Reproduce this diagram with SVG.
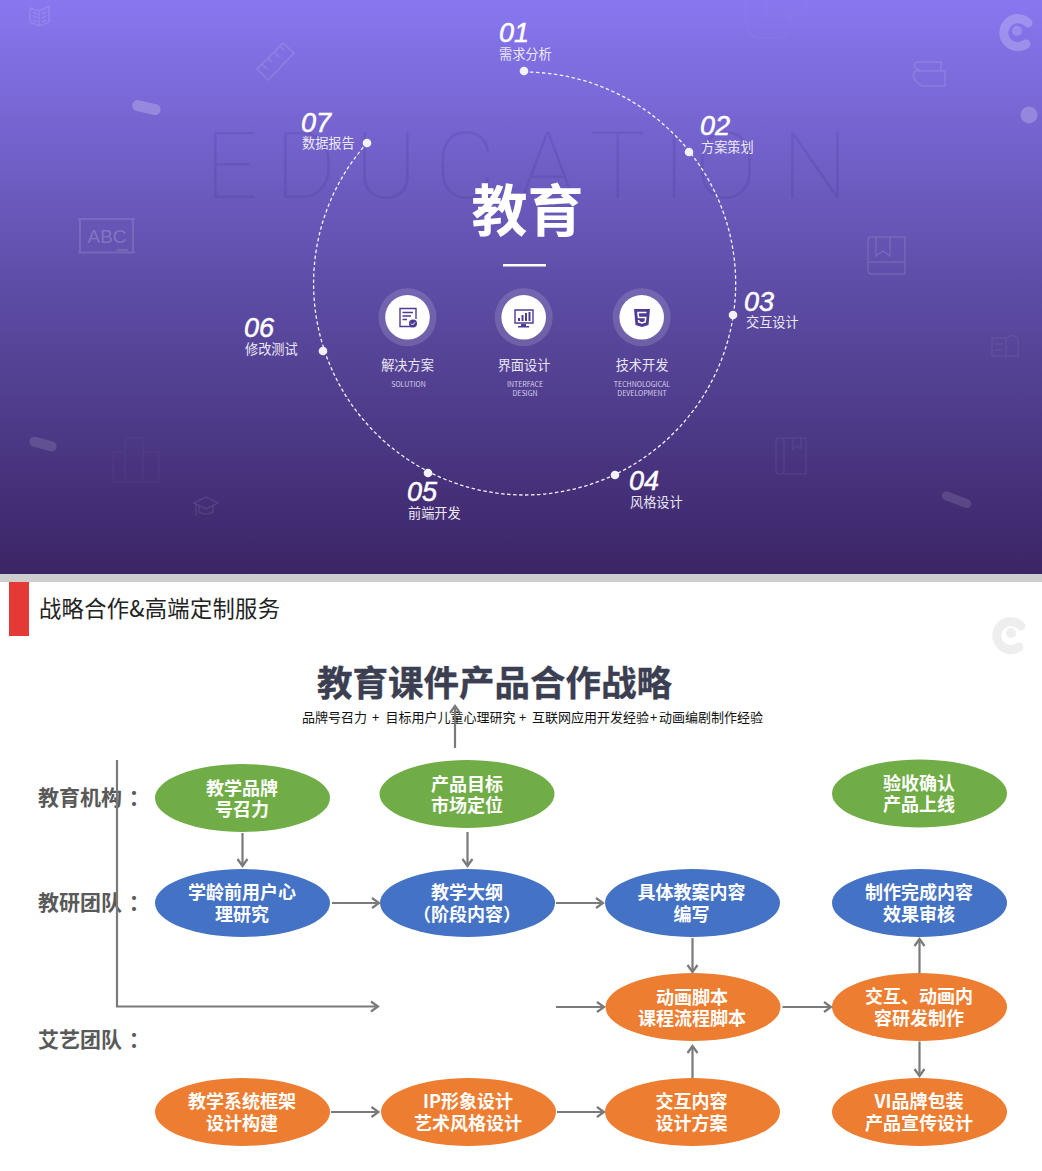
<svg xmlns="http://www.w3.org/2000/svg" width="1042" height="1171" viewBox="0 0 1042 1171">
<defs>
<linearGradient id="bg" x1="0" y1="0" x2="0" y2="1"><stop offset="0" stop-color="#8877f0"/><stop offset=".5" stop-color="#5e4da6"/><stop offset="1" stop-color="#3b2566"/></linearGradient>
<marker id="arr" markerUnits="userSpaceOnUse" markerWidth="12" markerHeight="14" viewBox="-9 -7 12 14" refX="0" refY="0" orient="auto"><path d="M-7,-5 L0,0 L-7,5" fill="none" stroke="#7a7a7a" stroke-width="2.2"/></marker>
</defs>
<style>
text{font-family:"Noto Sans CJK SC","Liberation Sans",sans-serif}
.num{font-family:"Liberation Sans","Noto Sans CJK SC",sans-serif;font-style:italic;font-size:27px;fill:#fff;stroke:#fff;stroke-width:.5}
.lab{font-size:13.2px;fill:#ebe8f5}
.cap{font-size:13.2px;fill:#e8e6f2;text-anchor:middle}
.sub{font-size:7px;fill:#d5d0e8;text-anchor:middle}
.nt{font-size:18px;font-weight:700;fill:#fff;text-anchor:middle}
.row{font-size:21px;font-weight:700;fill:#595959}
.g{fill:#70ad47}.b{fill:#4472c4}.o{fill:#ed7d31}
.dot{fill:#f4f3fb}
.halo{fill:#fff;fill-opacity:.14}
.ico{fill:none;stroke:#4f3a96;stroke-width:1.4}
.icf{fill:#4f3a96}
.d{fill:none;stroke:#fff;stroke-opacity:.12;stroke-width:1.5}
.d2{fill:none;stroke:#fff;stroke-opacity:.035;stroke-width:1.5}
.p{fill:#fff;fill-opacity:.22}
.cn{fill:none;stroke:#7a7a7a;stroke-width:2.2;marker-end:url(#arr)}
</style>
<rect width="1042" height="574" fill="url(#bg)"/>
<rect y="574" width="1042" height="8" fill="#cdcdcd"/>
<g id="decor">
<text font-size="93" fill="#3a2c80" fill-opacity=".16" y="198" x="205 275 355 435 520 590 662 695 782" style="font-family:Roboto,sans-serif;font-weight:100">EDUCATION</text>
<g class="d"><path d="M30,8 L39,11 L49,6 V22 L39,26 L30,22 Z M39,11 V26 M33,12 L37,14 M33,16 L37,18 M33,20 L37,22 M42,14 L46,12 M42,18 L46,16 M42,22 L46,20"/>
<path d="M257,69 L283,43 L294,53 L268,80 Z M262,64 L267,69 M268,58 L272,62 M274,52 L279,57 M280,46 L284,50"/>
<path d="M78,219 H135 M78,252.500 H135 M80,219 V253 M133,219 V253 M117,250 H128" stroke-width="2"/>
<path d="M916,62 H941 V71 H921 Q911,67 916,62 M915,71 H945 V86 H922 Q910,78 915,71"/>
<path d="M868,240 Q868,237 871,237 H905 V274 H872 Q868,274 868,270 Z M868,262 H905 M876,237 V256 L883,251 L890,256 V237"/></g>
<text x="107" y="243" font-size="19" fill="#fff" fill-opacity=".2" text-anchor="middle" style="font-family:'Liberation Sans',sans-serif">ABC</text>
<rect x="132" y="102" width="29" height="11" rx="5.5" class="p" transform="rotate(13 146 107)"/>
<rect x="29" y="439" width="28" height="10" rx="5" fill="#fff" fill-opacity=".13" transform="rotate(15 43 444)"/>
<rect x="941" y="495" width="31" height="9" rx="4.5" fill="#fff" fill-opacity=".12" transform="rotate(21 956 500)"/>
<circle cx="1029" cy="115" r="8.5" class="p"/>
<path d="M746,0 V26 Q750,38 762,38 H778 Q790,36 790,24 V14 H806 V0 M766,0 V16 H790" class="d2" stroke-width="3"/>
<path d="M113,482 V452 H125 V438 H143 V452 H159 V482 Z M125,452 V482 M143,452 V482" class="d2" stroke-width="3"/>
<path d="M206,497 L218,503 L206,509 L194,503 Z M199,506 V512 Q206,516 213,512 V506 M196,504 V515" class="d" style="stroke-opacity:.09"/>
<path d="M776,441 Q776,438 779,438 H806 V474 H779 Q776,474 776,471 Z M784,438 V474 M793,438 V449 L797,446 L801,449 V438" class="d" style="stroke-opacity:.06"/>
<path d="M992,338 H1006 V356 H992 Z M1006,338 L1012,335 L1018,338 V356 H1006 M994,344 H1003 M994,350 H1003" class="d" style="stroke-opacity:.06"/>
<g id="logo1"><path d="M1028,23 A14,14 0 1 0 1026,44" fill="none" stroke="#fff" stroke-opacity=".22" stroke-width="9" stroke-linecap="round"/><circle cx="1017" cy="31" r="5" fill="#fff" fill-opacity=".18"/></g>
<g id="logo2"><path d="M1021,626 A14,14 0 1 0 1019,647" fill="none" stroke="#eeeeee" stroke-width="9" stroke-linecap="round"/><circle cx="1011" cy="633" r="5" fill="#eeeeee"/></g>
</g>
<g id="ring"><path d="M524,72 A211.500,211.500 0 0 1 524.500,495 A211.500,211.500 0 0 1 367,143" fill="none" stroke="#f4f3fb" stroke-width="1.3" stroke-dasharray="3.5 2.5"/></g>
<g id="center"><text x="527.500" y="230.500" font-size="56" font-weight="700" fill="#fff" text-anchor="middle">教育</text><rect x="503" y="264" width="43" height="2.5" fill="#fff"/></g>
<g id="step01"><circle class="dot" cx="524" cy="71" r="4.3"/><text class="num" x="499" y="42">01</text><text class="lab" x="499" y="59">需求分析</text></g>
<g id="step02"><circle class="dot" cx="689" cy="152" r="4.3"/><text class="num" x="700" y="135">02</text><text class="lab" x="701" y="152">方案策划</text></g>
<g id="step03"><circle class="dot" cx="733" cy="315" r="4.3"/><text class="num" x="744" y="311">03</text><text class="lab" x="746" y="327">交互设计</text></g>
<g id="step04"><circle class="dot" cx="615" cy="475" r="4.3"/><text class="num" x="629" y="490">04</text><text class="lab" x="630" y="507">风格设计</text></g>
<g id="step05"><circle class="dot" cx="428" cy="473" r="4.3"/><text class="num" x="407" y="501">05</text><text class="lab" x="408" y="518">前端开发</text></g>
<g id="step06"><circle class="dot" cx="323" cy="351" r="4.3"/><text class="num" x="244" y="337">06</text><text class="lab" x="245" y="354">修改测试</text></g>
<g id="step07"><circle class="dot" cx="367" cy="143" r="4.3"/><text class="num" x="301" y="132">07</text><text class="lab" x="302" y="148">数据报告</text></g>
<g id="solution"><circle class="halo" cx="407.500" cy="317.300" r="29"/><circle cx="407.500" cy="317.300" r="22.300" fill="#fff"/>
<path class="ico" d="M412,326.500 H400 V308.500 H416 V319 M402.500,312.500 H413 M402.500,316 H411 M402.500,319.500 H407"/><circle class="icf" cx="413" cy="323.500" r="4"/><path d="M411,323.500 L412.500,325 L415,322.300" fill="none" stroke="#fff" stroke-width="1"/>
<text class="cap" x="407.500" y="370">解决方案</text><text class="sub" x="408.500" y="387">SOLUTION</text></g>
<g id="interface"><circle class="halo" cx="523.700" cy="317.300" r="29"/><circle cx="523.700" cy="317.300" r="22.300" fill="#fff"/>
<path class="ico" d="M515,310 H533 V323 H515 Z"/><path class="icf" d="M518,318 h2 v3 h-2z M521.500,315 h2 v6 h-2z M525,313 h2 v8 h-2z M528.500,312 h2 v9 h-2z M521,324 h5 v2 h3 v1.500 h-11 v-1.500 h3z"/>
<text class="cap" x="524" y="370">界面设计</text><text class="sub" x="525" y="387">INTERFACE</text><text class="sub" x="525" y="396">DESIGN</text></g>
<g id="tech"><circle class="halo" cx="641.700" cy="317.300" r="29"/><circle cx="641.700" cy="317.300" r="22.300" fill="#fff"/>
<path class="icf" d="M634,309 H650 L648.500,325 L642,327 L635.500,325 Z"/><path d="M646.500,312.500 H638 L638.500,317.500 H645.700 L645.200,322 L642,323 L638.800,322 L638.600,320" fill="none" stroke="#fff" stroke-width="1.6"/>
<text class="cap" x="642" y="370">技术开发</text><text class="sub" x="642" y="387">TECHNOLOGICAL</text><text class="sub" x="642" y="396">DEVELOPMENT</text></g>
<g id="header"><rect x="9" y="582" width="20" height="54" fill="#e53935"/><text x="39" y="616.500" font-size="22.300" fill="#222" textLength="241">战略合作&amp;高端定制服务</text></g>
<g id="titles"><text x="494.500" y="696" font-size="35.500" font-weight="700" fill="#3b3f51" text-anchor="middle" stroke="#3b3f51" stroke-width=".4">教育课件产品合作战略</text>
<text x="302" y="722" font-size="13" fill="#111">品牌号召力 <tspan x="372">+</tspan> <tspan x="385.500">目标用户儿童心理研究</tspan> <tspan x="519">+</tspan> <tspan x="532">互联网应用开发经验</tspan><tspan x="650">+</tspan><tspan x="659">动画编剧制作经验</tspan></text></g>
<g id="rows"><text class="row" x="38" y="805">教育机构 <tspan dx="2">：</tspan></text><text class="row" x="38" y="910">教研团队 <tspan dx="2">：</tspan></text><text class="row" x="38" y="1047">艾艺团队 <tspan dx="2">：</tspan></text></g>
<g id="n1"><ellipse class="g" cx="242.500" cy="798" rx="87.500" ry="34"/><text class="nt" x="242" y="795">教学品牌</text><text class="nt" x="242" y="816">号召力</text></g>
<g id="n2"><ellipse class="g" cx="467" cy="794" rx="87.500" ry="34"/><text class="nt" x="467" y="791">产品目标</text><text class="nt" x="467" y="812">市场定位</text></g>
<g id="n3"><ellipse class="g" cx="919.500" cy="793.500" rx="87.500" ry="34"/><text class="nt" x="919" y="790">验收确认</text><text class="nt" x="919" y="811">产品上线</text></g>
<g id="n4"><ellipse class="b" cx="242.500" cy="903" rx="87.500" ry="34"/><text class="nt" x="242" y="899">学龄前用户心</text><text class="nt" x="242" y="921">理研究</text></g>
<g id="n5"><ellipse class="b" cx="467.500" cy="903" rx="87.500" ry="34"/><text class="nt" x="467" y="899">教学大纲</text><text class="nt" x="467" y="921">（阶段内容）</text></g>
<g id="n6"><ellipse class="b" cx="692.500" cy="903" rx="87.500" ry="34"/><text class="nt" x="691.500" y="899">具体教案内容</text><text class="nt" x="691.500" y="921">编写</text></g>
<g id="n7"><ellipse class="b" cx="919.500" cy="903" rx="87.500" ry="34"/><text class="nt" x="919" y="899">制作完成内容</text><text class="nt" x="919" y="921">效果审核</text></g>
<g id="n8"><ellipse class="o" cx="693" cy="1007" rx="87.500" ry="34"/><text class="nt" x="692" y="1004">动画脚本</text><text class="nt" x="692" y="1025">课程流程脚本</text></g>
<g id="n9"><ellipse class="o" cx="919.500" cy="1007" rx="87.500" ry="34"/><text class="nt" x="919" y="1003">交互、动画内</text><text class="nt" x="919" y="1025">容研发制作</text></g>
<g id="n10"><ellipse class="o" cx="242.500" cy="1112" rx="87.500" ry="34"/><text class="nt" x="242" y="1108">教学系统框架</text><text class="nt" x="242" y="1130">设计构建</text></g>
<g id="n11"><ellipse class="o" cx="468.500" cy="1112" rx="87.500" ry="34"/><text class="nt" x="468" y="1108">IP形象设计</text><text class="nt" x="468" y="1130">艺术风格设计</text></g>
<g id="n12"><ellipse class="o" cx="692.500" cy="1112" rx="87.500" ry="34"/><text class="nt" x="691.500" y="1108">交互内容</text><text class="nt" x="691.500" y="1130">设计方案</text></g>
<g id="n13"><ellipse class="o" cx="919.500" cy="1112" rx="87.500" ry="34"/><text class="nt" x="919" y="1108">VI品牌包装</text><text class="nt" x="919" y="1130">产品宣传设计</text></g>
<g id="connectors">
<path class="cn" d="M455,748 V706"/>
<path class="cn" d="M117,760 V1006.500 H378"/>
<path class="cn" d="M242.500,833 V866"/>
<path class="cn" d="M467.500,832 V866"/>
<path class="cn" d="M332,903 H379"/>
<path class="cn" d="M556,903 H603"/>
<path class="cn" d="M556,1007 H604"/>
<path class="cn" d="M782.500,1007 H831"/>
<path class="cn" d="M692.500,938 V972"/>
<path class="cn" d="M692.500,1078 V1046"/>
<path class="cn" d="M919.500,973 V939"/>
<path class="cn" d="M919.500,1041.500 V1076"/>
<path class="cn" d="M331,1112 H378.500"/>
<path class="cn" d="M557,1112 H604"/>
</g>
</svg>
